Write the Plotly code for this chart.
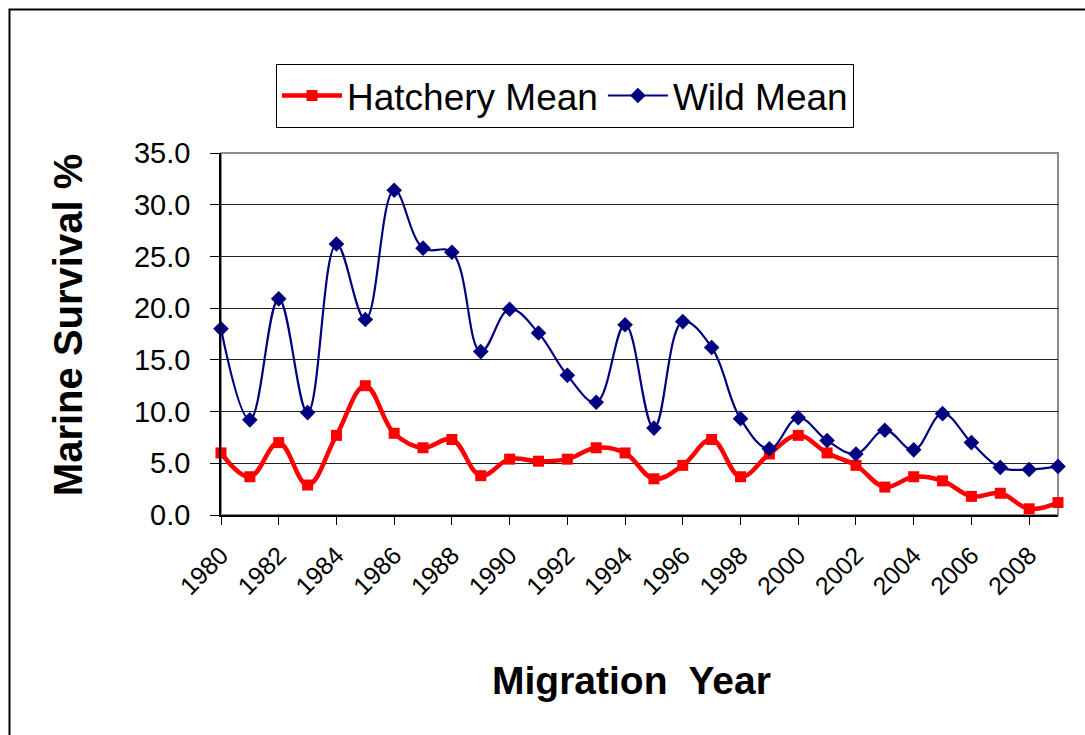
import plotly.graph_objects as go

years = list(range(1980, 2010))
hatchery_mean = [6.0, 3.7, 7.0, 2.9, 7.7, 12.5, 7.9, 6.5, 7.3, 3.8,
                 5.4, 5.2, 5.4, 6.5, 6.0, 3.5, 4.8, 7.3, 3.7, 5.9,
                 7.7, 6.0, 4.8, 2.7, 3.7, 3.3, 1.8, 2.1, 0.6, 1.2]
wild_mean = [18.0, 9.2, 20.9, 9.9, 26.2, 18.9, 31.4, 25.8, 25.4, 15.8,
             19.9, 17.6, 13.5, 10.9, 18.4, 8.4, 18.7, 16.2, 9.3, 6.4,
             9.4, 7.2, 5.9, 8.2, 6.3, 9.8, 7.0, 4.6, 4.4, 4.7]

FONT = "Liberation Sans, Arial, sans-serif"

fig = go.Figure()

fig.add_trace(go.Scatter(
    x=years, y=hatchery_mean, name="Hatchery Mean", mode="lines+markers",
    line=dict(color="#FF0000", width=4.5, shape="spline", smoothing=1.1),
    marker=dict(symbol="square", size=11, color="#FF0000"),
    cliponaxis=False))

fig.add_trace(go.Scatter(
    x=years, y=wild_mean, name="Wild Mean", mode="lines+markers",
    line=dict(color="#000080", width=2.2, shape="spline", smoothing=1.1),
    marker=dict(symbol="diamond", size=12, color="#000080"),
    cliponaxis=False))

# plot area border (grey top/right) and outer chart frame
fig.add_shape(type="rect", xref="paper", yref="paper", x0=0, x1=1, y0=0, y1=1,
              line=dict(color="#8c8c8c", width=2), layer="below")
fig.add_shape(type="rect", xref="paper", yref="paper",
              x0=-0.2527, x1=1.04, y0=-0.64, y1=1.3964,
              line=dict(color="black", width=2), layer="below")

fig.update_xaxes(
    range=[1980, 2009], tickmode="linear", tick0=1980, dtick=2,
    tickangle=-45, tickfont=dict(size=25, color="black", family=FONT),
    ticks="outside", ticklen=8, tickcolor="black", tickwidth=1,
    showgrid=False, zeroline=False,
    showline=True, linecolor="black", linewidth=1.5,
    ticklabelstandoff=6)

fig.update_yaxes(
    range=[0, 35], tickmode="linear", tick0=0, dtick=5, tickformat=".1f",
    tickfont=dict(size=29, color="black", family=FONT),
    ticks="outside", ticklen=9, tickcolor="black", tickwidth=1,
    showgrid=True, gridcolor="#222222", gridwidth=1, zeroline=False,
    showline=True, linecolor="black", linewidth=1.5,
    ticklabelstandoff=14)

fig.add_annotation(text="<b>Marine Survival %</b>", xref="paper", yref="paper",
                   x=-0.183, y=0.524, xanchor="center", yanchor="middle",
                   showarrow=False, textangle=-90,
                   font=dict(size=40, color="black", family=FONT))
fig.add_annotation(text="<b>Migration  Year</b>", xref="paper", yref="paper",
                   x=0.49, y=-0.456, xanchor="center", yanchor="middle",
                   showarrow=False,
                   font=dict(size=39, color="black", family=FONT))

fig.update_layout(
    width=1085, height=735,
    margin=dict(l=221, r=27, t=153, b=220),
    paper_bgcolor="white", plot_bgcolor="white",
    font=dict(family=FONT, color="black"),
    legend=dict(orientation="h", x=0.411, xanchor="center", y=1.246, yanchor="top",
                bgcolor="white", bordercolor="black", borderwidth=1,
                font=dict(size=37, color="black", family=FONT),
                itemwidth=60, tracegroupgap=0),
    showlegend=True)

fig.write_html("out.html", config={"displayModeBar": False},
               post_script="document.body.style.margin='0';")
